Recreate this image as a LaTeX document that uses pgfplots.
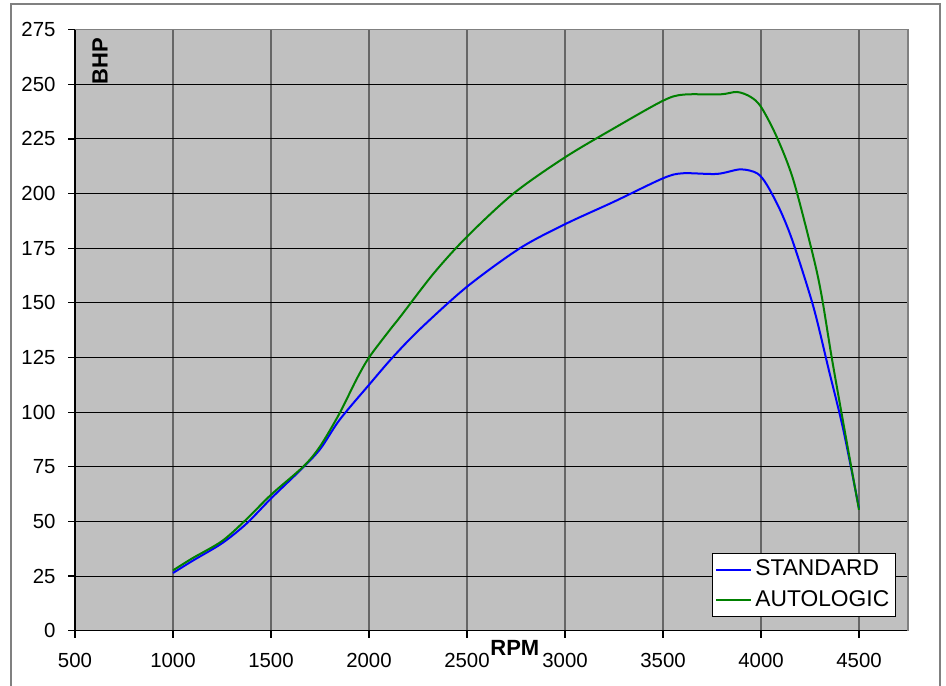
\documentclass[border=0pt]{standalone}
\usepackage{fontspec}
\setmainfont{Liberation Sans}
\usepackage{pgfplots}
\pgfplotsset{compat=1.18}
\definecolor{plotbg}{RGB}{192,192,192}
\definecolor{stdblue}{RGB}{0,0,255}
\definecolor{autogreen}{RGB}{0,128,0}
\begin{document}
\begin{tikzpicture}
\useasboundingbox (0,0) rectangle (473pt,342.5pt);
\fill[white] (0,0) rectangle (473pt,342.5pt);
\draw[black!50, line width=0.6pt] (5.5pt,-5pt) rectangle (470pt,340.5pt);
\begin{axis}[
  at={(37.5pt,27.15pt)}, anchor=south west,
  scale only axis, width=416.5pt, height=300.5pt,
  xmin=500, xmax=4750, ymin=0, ymax=275,
  xtick={500,1000,...,4500}, ytick={0,25,...,275},
  axis lines=left, axis line style={-, black, line width=0.6pt},
  tick align=outside, major tick length=3.5pt,
  tick style={black, line width=0.6pt},
  grid=major,
  x grid style={black!60, line width=0.8pt},
  y grid style={black, line width=0.5pt},
  axis background/.style={fill=plotbg},
  /pgf/number format/assume math mode=true,
  /pgf/number format/1000 sep={},
  tick label style={font=\fontsize{10.2}{12}\selectfont},
  yticklabel style={xshift=-2.7pt},
  xticklabel style={yshift=-4.2pt},
  legend style={at={(1,0)}, anchor=south east, xshift=-6pt, yshift=7pt,
    draw=black, fill=white, font=\fontsize{11.4}{13}\selectfont,
    cells={anchor=west}, row sep=2pt, inner sep=1.2pt},
  clip=false,
]
\draw[black!50, line width=0.6pt] (rel axis cs:0,1) -- (rel axis cs:1,1) -- (rel axis cs:1,0);
\addplot[stdblue, line width=1pt, smooth, tension=0.5] coordinates {
(1000,26.4) (1100,32) (1250,40) (1375,49) (1500,60.5) (1650,73.5) (1750,83)
(1850,96.5) (2000,112.5) (2120,125) (2260,138) (2500,157.4) (2770,175)
(3000,186) (3250,196.3) (3500,207) (3600,209.3) (3775,209) (3895,211.1)
(3980,209.3) (4030,204) (4100,192) (4165,177.3) (4267,148.3) (4346,119.3)
(4420,91.9) (4500,56)
};
\addlegendentry{STANDARD}
\addplot[autogreen, line width=1pt, smooth, tension=0.5] coordinates {
(1000,27.6) (1100,33.2) (1250,41) (1375,51) (1500,62.2) (1665,75.1) (1750,84.3)
(1850,99.5) (1935,114.8) (2000,125) (2106,137.6) (2160,143.7) (2330,163.5)
(2500,180.3) (2738,200.1) (3000,216.6) (3248,229.8) (3500,242.5) (3605,245.3)
(3792,245.4) (3878,246.5) (3946,244.3) (4000,239.7) (4080,226) (4165,206.2)
(4267,171.1) (4310,152.9) (4360,125.4) (4420,95) (4500,55.3)
};
\addlegendentry{AUTOLOGIC}
\node[rotate=90, font=\fontsize{11}{13}\selectfont\bfseries] at (rel axis cs:0.03,0.948) {BHP};
\node[font=\fontsize{11}{13}\selectfont\bfseries, yshift=-8.4pt] at (rel axis cs:0.528,0) {RPM};
\end{axis}
\end{tikzpicture}
\end{document}
